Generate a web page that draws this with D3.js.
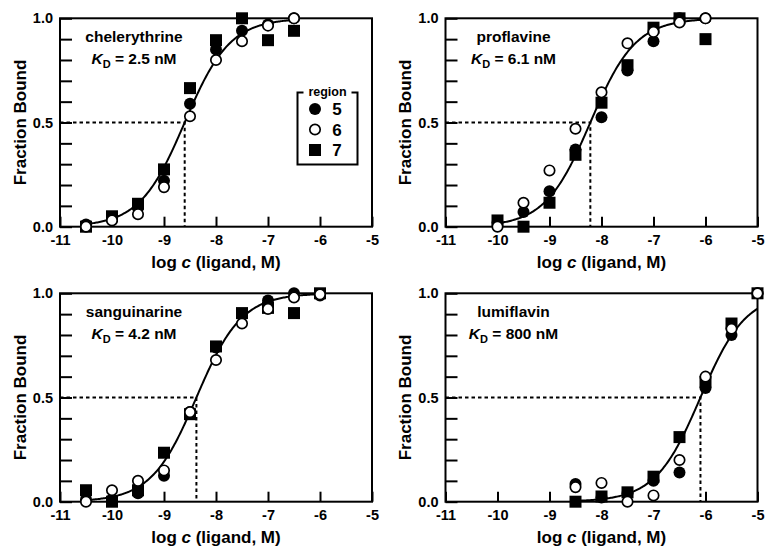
<!DOCTYPE html>
<html>
<head>
<meta charset="utf-8">
<script src="https://cdn.jsdelivr.net/npm/d3@7"></script>
<style>
  body { margin: 0; background: #fff; }
  svg { display: block; font-family: "Liberation Sans", Arial, sans-serif; font-weight: bold; }
  .axis path, .axis line { stroke: #000; stroke-width: 2; }
  .axis text { font-size: 14.5px; font-weight: bold; fill: #000; }
</style>
</head>
<body>
<div id="chart"></div>
<script>
// binding data: log c (M) and fraction bound for regions 5, 6, 7

var ligands = ["chelerythrine", "proflavine", "sanguinarine", "lumiflavin"];
var kdNM = [2.5, 6.1, 4.2, 800];
var kdLabels = ["2.5 nM", "6.1 nM", "4.2 nM", "800 nM"];
var regions = ["5", "6", "7"];

var chelLogC = [-10.5, -10, -9.5, -9, -8.5, -8, -7.5, -7, -6.5];
var chelR5 = [0.01, 0.04, 0.09, 0.22, 0.59, 0.85, 0.94, 0.97, 1.0];
var chelR6 = [0.0, 0.03, 0.06, 0.19, 0.53, 0.80, 0.89, 0.965, 1.0];
var chelR7 = [0.0, 0.05, 0.11, 0.275, 0.665, 0.895, 1.0, 0.895, 0.94];

var profLogC = [-10, -9.5, -9, -8.5, -8, -7.5, -7, -6.5, -6];
var profR5 = [0.02, 0.07, 0.17, 0.37, 0.525, 0.75, 0.89, 1.0, 1.0];
var profR6 = [0.0, 0.115, 0.27, 0.47, 0.645, 0.88, 0.935, 0.98, 1.0];
var profR7 = [0.03, 0.0, 0.115, 0.345, 0.595, 0.775, 0.955, 1.0, 0.90];

var sangLogC = [-10.5, -10, -9.5, -9, -8.5, -8, -7.5, -7, -6.5, -6];
var sangR5 = [0.01, 0.01, 0.04, 0.125, 0.43, 0.74, 0.90, 0.965, 1.0, 0.99];
var sangR6 = [0.0, 0.055, 0.10, 0.15, 0.43, 0.68, 0.855, 0.925, 0.98, 0.995];
var sangR7 = [0.055, 0.0, 0.055, 0.235, 0.42, 0.745, 0.905, 0.93, 0.905, 1.0];

var lumiLogC = [-8.5, -8, -7.5, -7, -6.5, -6, -5.5, -5];
var lumiR5 = [0.085, 0.02, 0.04, 0.10, 0.14, 0.545, 0.80, 1.0];
var lumiR6 = [0.07, 0.09, 0.0, 0.03, 0.20, 0.60, 0.83, 1.0];
var lumiR7 = [0.0, 0.025, 0.045, 0.12, 0.31, 0.575, 0.855, 1.0];

var xTicks = [-11, -10, -9, -8, -7, -6, -5];
var yTicks = [0, 0.1, 0.2, 0.3, 0.4, 0.5, 0.6, 0.7, 0.8, 0.9, 1.0];
var yTickLabels = {"0": "0.0", "0.5": "0.5", "1": "1.0"};

var logCs = [chelLogC, profLogC, sangLogC, lumiLogC];
var series = [
  [chelR5, chelR6, chelR7],
  [profR5, profR6, profR7],
  [sangR5, sangR6, sangR7],
  [lumiR5, lumiR6, lumiR7]
];

// layout
var width = 765, height = 550;
var plotW = 312, plotH = 208.4;
var origins = [[60, 18.3], [445.5, 18.3], [60, 293.3], [445.5, 293.3]];
var titleDx = [74, 68, 74, 68];

var svg = d3.select("#chart").append("svg")
  .attr("width", width)
  .attr("height", height);

svg.append("rect").attr("width", width).attr("height", height).attr("fill", "#fff");

var x = d3.scaleLinear().domain([-11, -5]).range([0, plotW]);
var y = d3.scaleLinear().domain([0, 1]).range([plotH, 0]);

// fraction bound for a simple 1:1 isotherm
function bound(logc, kd) {
  return 1 / (1 + (kd * 1e-9) / Math.pow(10, logc));
}

var circleSym = d3.symbol().type(d3.symbolCircle);
var squareSym = d3.symbol().type(d3.symbolSquare);

function drawMarker(sel, region) {
  if (region === "5") {
    sel.attr("d", circleSym.size(Math.PI * 6 * 6)()).attr("fill", "#000");
  } else if (region === "6") {
    sel.attr("d", circleSym.size(Math.PI * 5.2 * 5.2)())
      .attr("fill", "#fff").attr("stroke", "#000").attr("stroke-width", 1.7);
  } else {
    sel.attr("d", squareSym.size(12 * 12)()).attr("fill", "#000");
  }
}

ligands.forEach(function(name, i) {
  var g = svg.append("g")
    .attr("transform", "translate(" + origins[i][0] + "," + origins[i][1] + ")");

  // y axis with inward ticks
  g.append("g")
    .attr("class", "axis")
    .call(d3.axisLeft(y)
      .tickValues(yTicks)
      .tickSize(-12)
      .tickPadding(7)
      .tickFormat(function(d) { return yTickLabels[String(+d.toFixed(1))] || ""; }))
    .call(function(a) { a.select(".domain").remove(); });

  // x axis with inward ticks (plain hyphen as in the original)
  g.append("g")
    .attr("class", "axis")
    .attr("transform", "translate(0," + plotH + ")")
    .call(d3.axisBottom(x)
      .tickValues(xTicks)
      .tickSize(-10)
      .tickPadding(8)
      .tickFormat(function(d) { return String(d); }))
    .call(function(a) { a.select(".domain").remove(); });

  // frame
  g.append("rect")
    .attr("width", plotW)
    .attr("height", plotH)
    .attr("fill", "none")
    .attr("stroke", "#000")
    .attr("stroke-width", 2);

  // half-saturation guides
  var logKd = Math.log10(kdNM[i] * 1e-9);
  g.append("path")
    .attr("d", "M" + x(-11) + "," + y(0.5) + "H" + x(logKd) + "V" + y(0))
    .attr("fill", "none")
    .attr("stroke", "#000")
    .attr("stroke-width", 2)
    .attr("stroke-dasharray", "3.5,3");

  // fitted curve over the measured range
  var xs = logCs[i];
  var curveX = d3.range(xs[0], xs[xs.length - 1] + 0.001, 0.02);
  var line = d3.line()
    .x(function(d) { return x(d); })
    .y(function(d) { return y(bound(d, kdNM[i])); });
  g.append("path")
    .datum(curveX)
    .attr("d", line)
    .attr("fill", "none")
    .attr("stroke", "#000")
    .attr("stroke-width", 2);

  // points: region 5, then 7, then 6 on top
  [0, 2, 1].forEach(function(r) {
    g.selectAll(".pt" + r)
      .data(series[i][r])
      .enter().append("path")
      .attr("class", "pt" + r)
      .attr("transform", function(d, k) { return "translate(" + x(xs[k]) + "," + y(d) + ")"; })
      .call(drawMarker, regions[r]);
  });

  // ligand label
  var tx = titleDx[i];
  g.append("text")
    .attr("x", tx).attr("y", 24)
    .attr("text-anchor", "middle")
    .attr("font-size", "15.5px")
    .text(name);
  var kd = g.append("text")
    .attr("x", tx).attr("y", 46)
    .attr("text-anchor", "middle")
    .attr("font-size", "15.5px");
  kd.append("tspan").attr("font-style", "italic").text("K");
  kd.append("tspan").attr("font-size", "11px").attr("dy", 4).text("D");
  kd.append("tspan").attr("dy", -4).text(" = " + kdLabels[i]);

  // axis titles
  g.append("text")
    .attr("transform", "translate(-34.5," + (plotH / 2) + ") rotate(-90)")
    .attr("text-anchor", "middle")
    .attr("font-size", "17px")
    .text("Fraction Bound");
  var xl = g.append("text")
    .attr("x", plotW / 2).attr("y", plotH + 41)
    .attr("text-anchor", "middle")
    .attr("font-size", "17px");
  xl.append("tspan").text("log ");
  xl.append("tspan").attr("font-style", "italic").text("c");
  xl.append("tspan").text(" (ligand, M)");
});

// legend in the first panel
var leg = svg.append("g").attr("transform", "translate(297.5,92.5)");
leg.append("path")
  .attr("d", "M6,0H0V72H60V0H54")
  .attr("fill", "none")
  .attr("stroke", "#000")
  .attr("stroke-width", 2);
leg.append("text")
  .attr("x", 30).attr("y", 3.5)
  .attr("text-anchor", "middle")
  .attr("font-size", "12.5px")
  .text("region");
regions.forEach(function(r, k) {
  var row = leg.append("g").attr("transform", "translate(17.5," + (16.5 + k * 20.5) + ")");
  row.append("path").call(drawMarker, r);
  row.append("text")
    .attr("x", 22).attr("y", 6)
    .attr("text-anchor", "middle")
    .attr("font-size", "17px")
    .text(r);
});
</script>
</body>
</html>
